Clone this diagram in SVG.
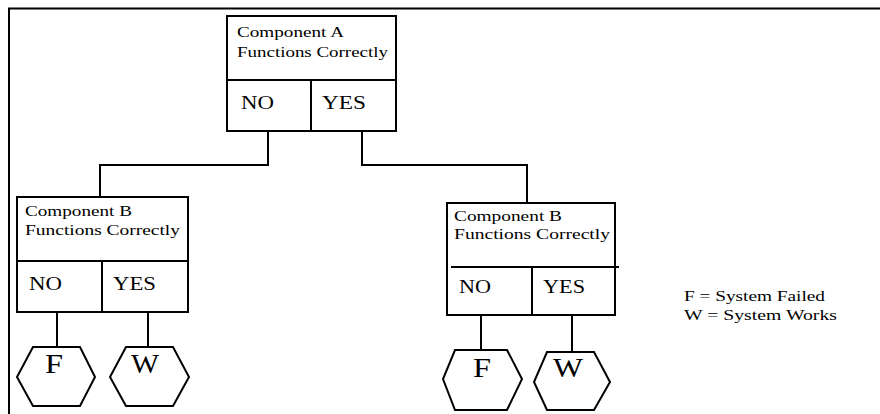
<svg xmlns="http://www.w3.org/2000/svg" width="880" height="414" viewBox="0 0 880 414">
<style>
.ln{fill:none;stroke:#000;stroke-width:2}
.t{font-family:"Liberation Serif","Times New Roman",serif;fill:#000}
.lbl{font-size:15px}
.yn{font-size:19px}
.big{font-size:28px}
.leg{font-size:14px}
</style>
<rect width="880" height="414" fill="#fff"/>
<g id="frame"><polyline class="ln" points="9,414 9,8.5 880,8.5" stroke-width="2.5"/></g>
<g id="connectors">
<polyline class="ln" points="268,131 268,165 100,165 100,197"/>
<polyline class="ln" points="362,131 362,165 527,165 527,203"/>
<line class="ln" x1="57" y1="312" x2="57" y2="347"/>
<line class="ln" x1="148" y1="312" x2="148" y2="347"/>
<line class="ln" x1="481" y1="315" x2="481" y2="350"/>
<line class="ln" x1="572" y1="315" x2="572" y2="352"/>
</g>
<g id="nodeA">
<rect class="ln" x="227" y="16" width="169" height="115"/>
<line class="ln" x1="227" y1="80" x2="396" y2="80"/>
<line class="ln" x1="311" y1="80" x2="311" y2="131"/>
<text class="t lbl" x="237" y="37" textLength="107" lengthAdjust="spacingAndGlyphs">Component A</text>
<text class="t lbl" x="237" y="57" textLength="151" lengthAdjust="spacingAndGlyphs">Functions Correctly</text>
<text class="t yn" x="241" y="109" textLength="33" lengthAdjust="spacingAndGlyphs">NO</text>
<text class="t yn" x="322" y="109" textLength="44" lengthAdjust="spacingAndGlyphs">YES</text>
</g>
<g id="nodeB1">
<rect class="ln" x="17" y="197" width="171" height="115"/>
<line class="ln" x1="17" y1="261" x2="188" y2="261"/>
<line class="ln" x1="102" y1="261" x2="102" y2="312"/>
<text class="t lbl" x="25" y="216" textLength="107" lengthAdjust="spacingAndGlyphs">Component B</text>
<text class="t lbl" x="25" y="235" textLength="155" lengthAdjust="spacingAndGlyphs">Functions Correctly</text>
<text class="t yn" x="29" y="290" textLength="33" lengthAdjust="spacingAndGlyphs">NO</text>
<text class="t yn" x="113" y="290" textLength="43" lengthAdjust="spacingAndGlyphs">YES</text>
</g>
<g id="nodeB2">
<rect class="ln" x="447" y="203" width="168" height="112"/>
<line class="ln" x1="451" y1="267" x2="619" y2="267"/>
<line class="ln" x1="532" y1="267" x2="532" y2="315"/>
<text class="t lbl" x="454" y="221" textLength="108" lengthAdjust="spacingAndGlyphs">Component B</text>
<text class="t lbl" x="454" y="239" textLength="156" lengthAdjust="spacingAndGlyphs">Functions Correctly</text>
<text class="t yn" x="459" y="293" textLength="32" lengthAdjust="spacingAndGlyphs">NO</text>
<text class="t yn" x="543" y="293" textLength="42" lengthAdjust="spacingAndGlyphs">YES</text>
</g>
<g id="hexF1">
<polygon class="ln" points="33,347 80,347 95,377 80,406 33,406 17,377"/>
<text class="t big" x="45" y="373" textLength="18" lengthAdjust="spacingAndGlyphs">F</text>
</g>
<g id="hexW1">
<polygon class="ln" points="126,347 173,347 189,377 173,406 126,406 110,377"/>
<text class="t big" x="131" y="373" textLength="28" lengthAdjust="spacingAndGlyphs">W</text>
</g>
<g id="hexF2">
<polygon class="ln" points="455,350 507,350 522,379 507,410 455,410 443,379"/>
<text class="t big" x="473" y="377" textLength="18" lengthAdjust="spacingAndGlyphs">F</text>
</g>
<g id="hexW2">
<polygon class="ln" points="547,352 594,352 610,382 594,410 547,410 534,382"/>
<text class="t big" x="553" y="377" textLength="30" lengthAdjust="spacingAndGlyphs">W</text>
</g>
<g id="legend">
<text class="t leg" x="684" y="301" textLength="141" lengthAdjust="spacingAndGlyphs">F = System Failed</text>
<text class="t leg" x="684" y="320" textLength="153" lengthAdjust="spacingAndGlyphs">W = System Works</text>
</g>
</svg>
